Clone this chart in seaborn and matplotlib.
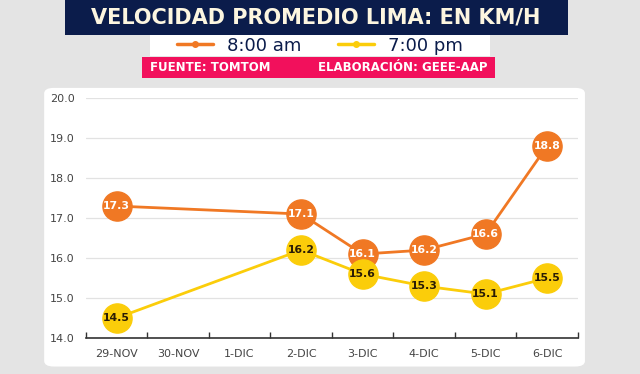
import numpy as np
import pandas as pd
import seaborn as sns
import matplotlib.pyplot as plt
from matplotlib.patches import FancyBboxPatch, Rectangle
from matplotlib.lines import Line2D

# datos
dias = ['29-NOV', '30-NOV', '1-DIC', '2-DIC', '3-DIC', '4-DIC', '5-DIC', '6-DIC']
vel_manana = [17.3, np.nan, np.nan, 17.1, 16.1, 16.2, 16.6, 18.8]
vel_noche = [14.5, np.nan, np.nan, 16.2, 15.6, 15.3, 15.1, 15.5]
series = ['8:00 am', '7:00 pm']
colores = {'8:00 am': '#f07824', '7:00 pm': '#fbcd0a'}
color_texto = {'8:00 am': 'white', '7:00 pm': '#2a1c05'}

df = pd.DataFrame({'dia': dias, '8:00 am': vel_manana, '7:00 pm': vel_noche})
df['pos'] = range(len(dias))
df_long = df.melt(id_vars=['dia', 'pos'], value_vars=series, var_name='hora', value_name='vel').dropna()

sns.set_theme(style='white')
plt.rcParams['font.family'] = ['DejaVu Sans']

fig = plt.figure(figsize=(6.4, 3.74), dpi=100, facecolor='#e4e4e4')

# panel blanco
fig.patches.append(FancyBboxPatch((0.069, 0.02), 0.845, 0.745, boxstyle='round,pad=0,rounding_size=0.015',
                                  transform=fig.transFigure, facecolor='white', edgecolor='none', zorder=-2))
# barra de titulo
fig.patches.append(Rectangle((0.102, 0.906), 0.786, 0.094, transform=fig.transFigure,
                             facecolor='#0b1c4b', edgecolor='none', zorder=-1))
fig.text(0.494, 0.953, 'VELOCIDAD PROMEDIO LIMA: EN KM/H', color='#fdf6e0', fontsize=15,
         fontweight='bold', ha='center', va='center')
# zona de leyenda
fig.patches.append(Rectangle((0.234, 0.85), 0.532, 0.056, transform=fig.transFigure,
                             facecolor='white', edgecolor='none', zorder=-1))
# caja rosada
fig.patches.append(Rectangle((0.222, 0.791), 0.552, 0.057, transform=fig.transFigure,
                             facecolor='#f2105c', edgecolor='none', zorder=-1))
fig.text(0.235, 0.819, 'FUENTE: TOMTOM', color='white', fontsize=8.5, fontweight='bold', va='center')
fig.text(0.762, 0.819, 'ELABORACIÓN: GEEE-AAP', color='white', fontsize=8.5, fontweight='bold',
         va='center', ha='right')

ax = fig.add_axes([0.134, 0.096, 0.769, 0.642])
ax.set_facecolor('none')
ax.set_zorder(2)

sns.lineplot(data=df_long, x='pos', y='vel', hue='hora', palette=colores, hue_order=series,
             linewidth=2, legend=False, ax=ax, zorder=2)
for h in series:
    sub = df_long[df_long['hora'] == h]
    ax.plot(sub['pos'], sub['vel'], 'o', markersize=21, color=colores[h], zorder=3, clip_on=False)
    for _, r in sub.iterrows():
        ax.text(r['pos'], r['vel'], f"{r['vel']:.1f}", color=color_texto[h], fontsize=7.8,
                fontweight='bold', ha='center', va='center', zorder=4)

ax.set_xlim(-0.5, len(dias) - 0.5)
ax.set_ylim(14, 20)
ax.set_yticks(np.arange(14, 20.1, 1))
ax.set_yticklabels([f'{v:.1f}' for v in np.arange(14, 20.1, 1)])
ax.set_xticks(range(len(dias)))
ax.set_xticklabels(dias)
ax.set_xticks(np.arange(-0.5, len(dias)), minor=True)
ax.tick_params(axis='x', which='major', length=0, labelsize=8, colors='#444444', pad=8)
ax.tick_params(axis='x', which='minor', direction='in', length=4, width=1, color='#333333', bottom=True)
ax.tick_params(axis='y', length=0, labelsize=8, colors='#444444', pad=8)
ax.grid(True, axis='y', color='#e2e2e2', linewidth=0.9)
ax.set_xlabel('')
ax.set_ylabel('')
for s in ['top', 'right', 'left']:
    ax.spines[s].set_visible(False)
ax.spines['bottom'].set_color('#333333')
ax.spines['bottom'].set_linewidth(1.2)

handles = [Line2D([0], [0], color=colores[h], lw=2.5, marker='o', markersize=4) for h in series]
fig.legend(handles, series, loc='center', bbox_to_anchor=(0.5, 0.878), ncol=2, frameon=False,
           fontsize=13, handlelength=2, columnspacing=2, handletextpad=0.8, labelcolor='#0b1c4b')

fig.savefig('out.png', dpi=100, facecolor=fig.get_facecolor())
